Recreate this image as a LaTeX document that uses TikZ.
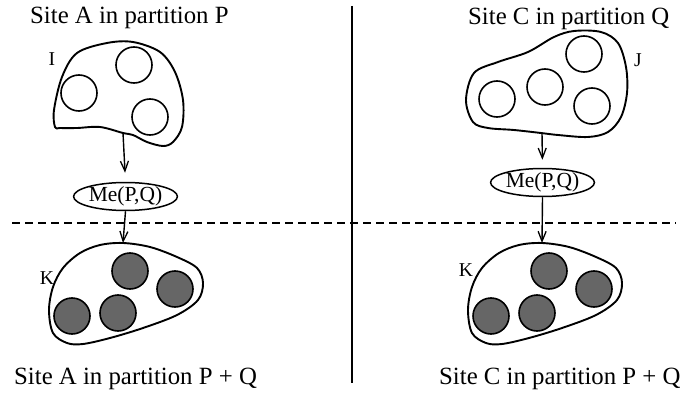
\documentclass[tikz,border=0pt]{standalone}
\usepackage{fontspec}
\setmainfont{Liberation Serif}
\usetikzlibrary{arrows.meta,shapes.geometric}
\newcommand{\kblobdraw}{%
  \draw[blobline] plot[smooth cycle,tension=0.55] coordinates {(123,243) (100,245) (80,253) (63,268) (53,287) (49,310) (53,333) (67,343) (83,344) (110,338) (143,328) (177,315) (198,300) (203,283) (197,268) (177,257) (150,247)};
  \draw[darkdisc] (130,271) circle (18);
  \draw[darkdisc] (175,289) circle (18);
  \draw[darkdisc] (118,313) circle (18);
  \draw[darkdisc] (72,316) circle (18);
}
\begin{document}
\begin{tikzpicture}[x=1pt,y=-1pt,
  blobline/.style={line width=1.9pt},
  opendisc/.style={line width=1.6pt},
  darkdisc/.style={line width=1.6pt,fill=black!60},
  title/.style={font=\fontsize{24.8}{28}\selectfont,inner sep=0pt},
  setlabel/.style={font=\fontsize{19.6}{22}\selectfont,inner sep=0pt},
  merge/.style={ellipse,draw,line width=1.5pt,inner sep=0pt,minimum width=95pt,minimum height=28pt,font=\fontsize{21.5}{24}\selectfont},
  arr/.style={line width=1.4pt,-{Straight Barb[length=10pt,width=8pt,line width=1.3pt]}},
  sepline/.style={line width=1.4pt}]
\useasboundingbox (0,0) rectangle (682,393);
% separators
\coordinate (vt) at (352,6);
\coordinate (vb) at (352,383);
\draw[sepline] (vt) -- (vb);
\coordinate (dl) at (12,223);
\coordinate (dr) at (676,223);
\draw[sepline,dash pattern=on 8pt off 5pt] (dl) -- (dr);
% titles
\node[title,anchor=base west] (tA) at (30,24) {Site A in partition P};
\node[title,anchor=base west] (tC) at (468,25) {Site C in partition Q};
\node[title,anchor=base west] (tAPQ) at (14,384) {Site A in partition P + Q};
\node[title,anchor=base west] (tCPQ) at (439,384) {Site C in partition P + Q};
% blob I
\draw[blobline] plot[smooth cycle,tension=0.55] coordinates {(55,127) (54,110) (62,77) (77,53) (107,43) (133,42) (160,52) (175,72) (183,100) (182,127) (173,142) (163,146) (147,142) (133,135) (123,133) (100,127) (77,128) (60,128)};
\draw[opendisc] (79,93) circle (18);
\draw[opendisc] (134,65) circle (18);
\draw[opendisc] (150,117) circle (18);
\node[setlabel] (lI) at (52,59) {I};
\coordinate (Ibot) at (123,133);
% blob J
\draw[blobline] plot[smooth cycle,tension=0.55] coordinates {(466,100) (474,73) (498,62) (528,52) (554,37) (574,31) (601,32) (618,43) (626,67) (627,93) (621,117) (608,132) (588,137) (558,135) (541,133) (514,130) (488,128) (473,122)};
\draw[opendisc] (497,99) circle (18);
\draw[opendisc] (545,87) circle (18);
\draw[opendisc] (584,54) circle (18);
\draw[opendisc] (592,106) circle (18);
\node[setlabel] (lJ) at (638,60) {J};
\coordinate (Jbot) at (542,133);
% merge nodes
\node[merge] (meA) at (125.5,196.5) {Me(P,Q)};
\node[merge] (meC) at (542.5,182.5) {Me(P,Q)};
% blobs K
\kblobdraw
\coordinate (KAtop) at (123,243);
\node[setlabel] (lKA) at (47,278) {K};
\begin{scope}[xshift=419pt]
\kblobdraw
\end{scope}
\coordinate (KCtop) at (542,243);
\node[setlabel] (lKC) at (466,270) {K};
% arrows
\draw[arr,shorten >=9pt] (Ibot) -- (meA.north);
\draw[arr] (meA.south) -- (KAtop);
\draw[arr,shorten >=8pt] (Jbot) -- (meC.north);
\draw[arr] (meC.south) -- (KCtop);
\end{tikzpicture}
\end{document}
